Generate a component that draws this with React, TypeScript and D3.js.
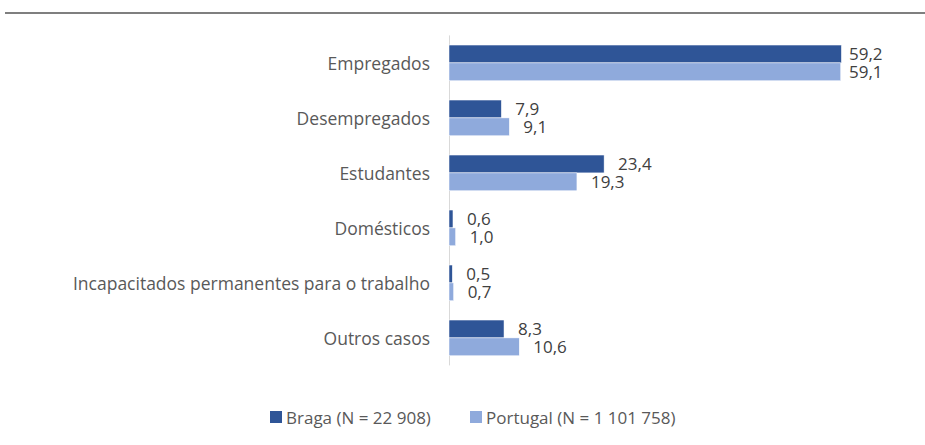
import * as React from "react";
import * as d3 from "d3";

const categories: string[] = [
  "Empregados",
  "Desempregados",
  "Estudantes",
  "Domésticos",
  "Incapacitados permanentes para o trabalho",
  "Outros casos",
];
const seriesNames: string[] = ["Braga (N = 22 908)", "Portugal (N = 1 101 758)"];
const bragaValues: number[] = [59.2, 7.9, 23.4, 0.6, 0.5, 8.3];
const portugalValues: number[] = [59.1, 9.1, 19.3, 1.0, 0.7, 10.6];
const seriesColors: string[] = ["#2F5597", "#8FAADC"];

const WIDTH = 925;
const HEIGHT = 445;
const FONT = "'Open Sans', sans-serif";

export default function App(): JSX.Element {
  const x = d3.scaleLinear().domain([0, 70]).range([449, 913]);
  const y = d3
    .scaleBand<string>()
    .domain(categories)
    .range([35.4, 365.4])
    .paddingInner(0.35)
    .paddingOuter(0.175);
  const inner = d3.scaleBand<number>().domain([0, 1]).range([0, y.bandwidth()]);
  const series = [bragaValues, portugalValues];
  const fmt = (v: number) => d3.format(".1f")(v).replace(".", ",");

  return (
    <div style={{ position: "fixed", left: 0, top: 0 }}>
      <svg width={WIDTH} height={HEIGHT} style={{ display: "block", background: "#fff" }}>
        {/* top rule */}
        <line x1={5} x2={WIDTH} y1={13} y2={13} stroke="#7f7f7f" strokeWidth={2} />

        {/* category axis */}
        <line x1={449.5} x2={449.5} y1={35.4} y2={365.4} stroke="#d9d9d9" strokeWidth={1} />
        {categories.map((c) => (
          <text
            key={c}
            x={430}
            y={(y(c) ?? 0) + y.bandwidth() / 2}
            textAnchor="end"
            dominantBaseline="central"
            fontFamily={FONT}
            fontSize={17.5}
            fill="#595959"
          >
            {c}
          </text>
        ))}

        {series.map((vals, si) => (
          <g key={si}>
            {vals.map((v, i) => {
              const yy = (y(categories[i]) ?? 0) + (inner(si) ?? 0);
              const xEnd = x(v);
              return (
                <g key={i}>
                  <rect
                    x={x(0)}
                    y={yy}
                    width={xEnd - x(0)}
                    height={inner.bandwidth()}
                    fill={seriesColors[si]}
                    stroke="#fff"
                    strokeWidth={0.5}
                  />
                  <text
                    x={Math.min(xEnd + 14, 849)}
                    y={yy + inner.bandwidth() / 2}
                    dominantBaseline="central"
                    fontFamily={FONT}
                    fontSize={17}
                    fill="#404040"
                  >
                    {fmt(v)}
                  </text>
                </g>
              );
            })}
          </g>
        ))}

        {/* legend */}
        {seriesNames.map((n, i) => {
          const lx = i === 0 ? 270 : 470;
          return (
            <g key={n}>
              <rect x={lx} y={411} width={12} height={12} fill={seriesColors[i]} />
              <text
                x={lx + 16}
                y={417}
                dominantBaseline="central"
                fontFamily={FONT}
                fontSize={17}
                fill="#595959"
              >
                {n}
              </text>
            </g>
          );
        })}
      </svg>
    </div>
  );
}
